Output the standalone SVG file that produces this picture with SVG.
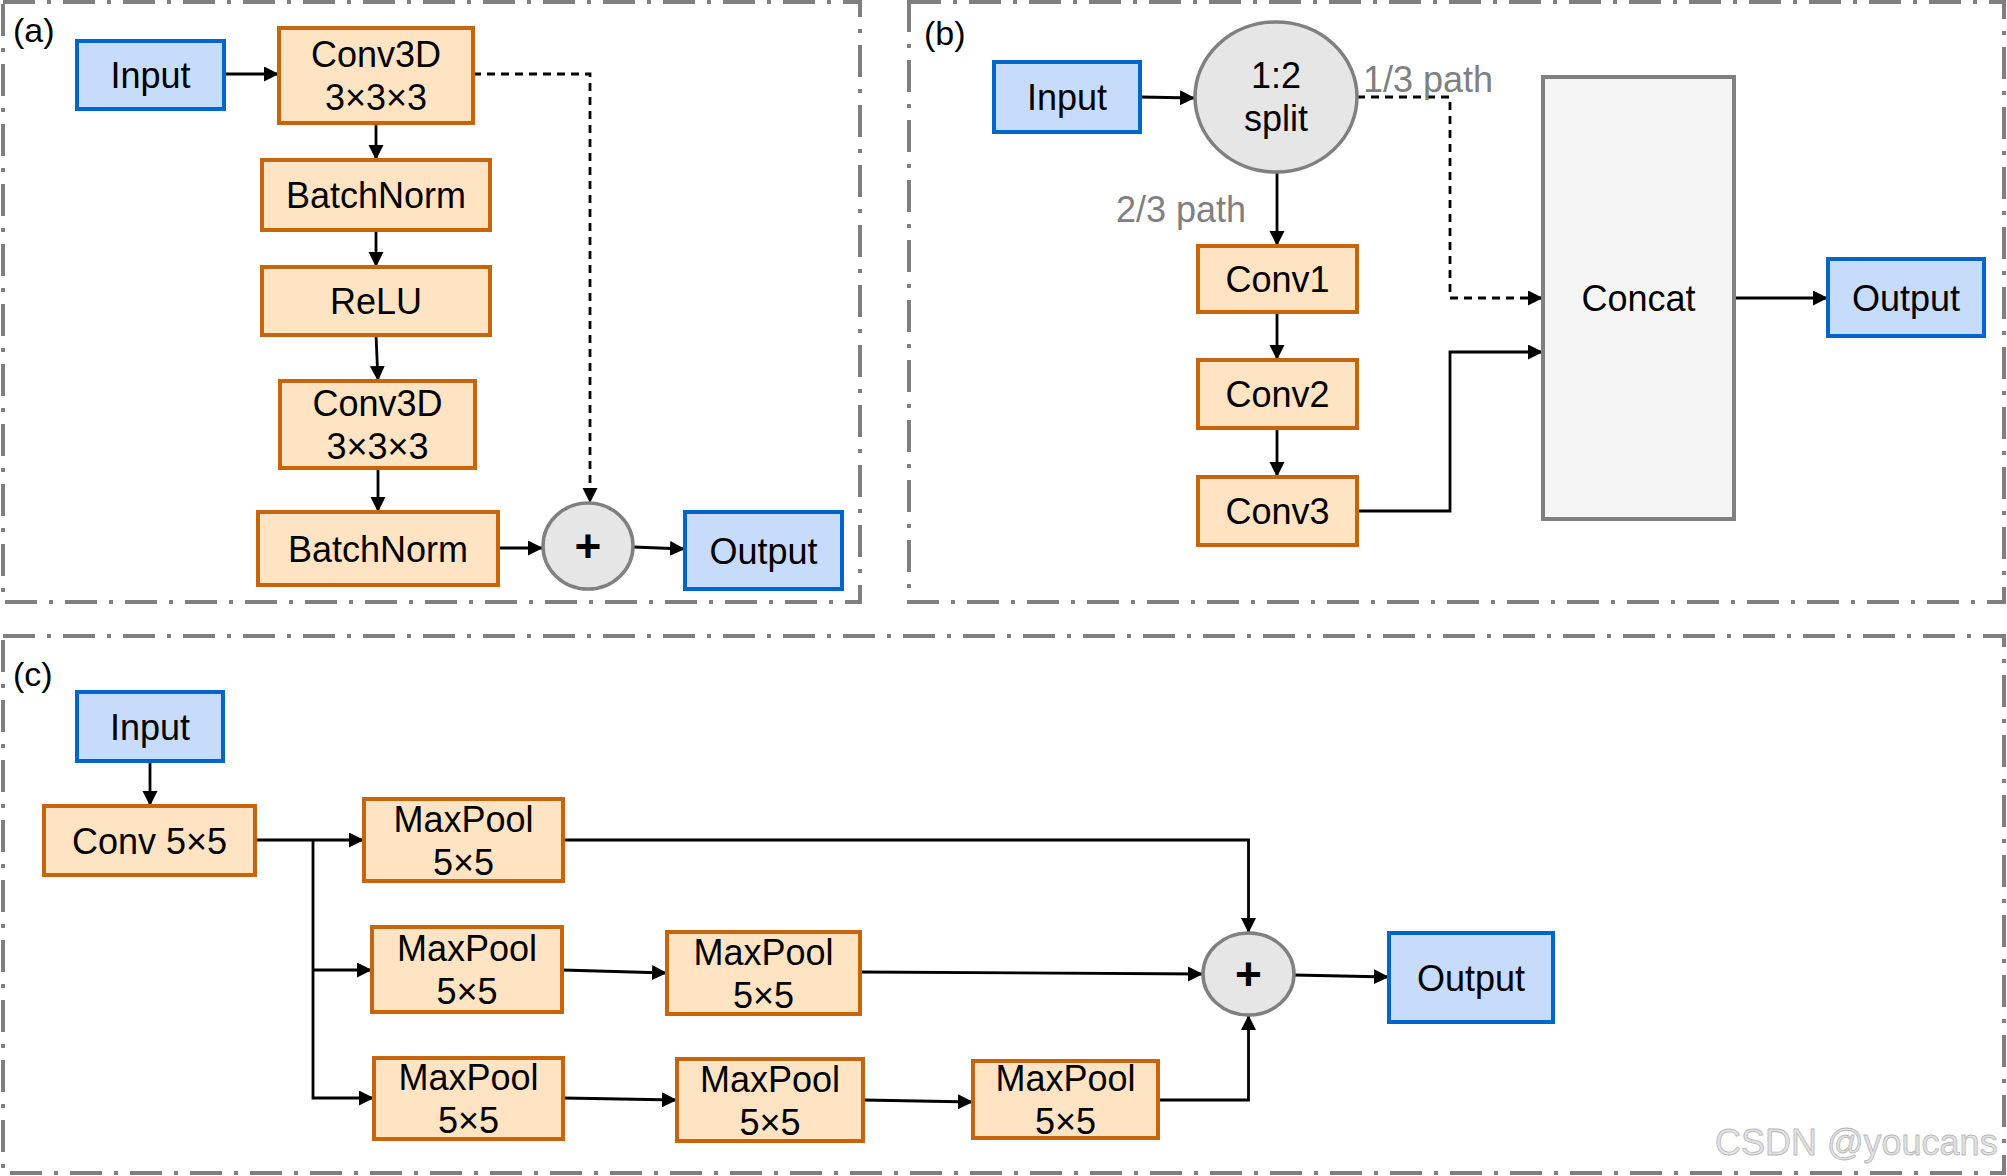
<svg xmlns="http://www.w3.org/2000/svg" width="2007" height="1176" viewBox="0 0 2007 1176">
<style>
.t{font-family:"Liberation Sans",Arial,sans-serif;font-size:36px;text-anchor:middle;fill:#000}
.lab{font-family:"Liberation Sans",Arial,sans-serif;font-size:34px;fill:#000}
.gl{font-family:"Liberation Sans",Arial,sans-serif;font-size:36px;fill:#808080}
.or{fill:#ffe4c4;stroke:#c8640c;stroke-width:4}
.bl{fill:#c6dcfa;stroke:#0066cc;stroke-width:4}
.ci{fill:#e6e6e6;stroke:#808080;stroke-width:3.5}
.cc{fill:#f5f5f5;stroke:#808080;stroke-width:4}
.pn{fill:none;stroke:#7f7f7f;stroke-width:4;stroke-dasharray:32 12 4 12}
.e{fill:none;stroke:#000;stroke-width:2.8;marker-end:url(#ah)}
.d{fill:none;stroke:#000;stroke-width:2.8;stroke-dasharray:8 6;marker-end:url(#ah)}
.pl{font-family:"Liberation Sans",Arial,sans-serif;font-size:46px;font-weight:bold;text-anchor:middle;fill:#000}
.wm{font-family:"Liberation Sans",Arial,sans-serif;font-size:36px;fill:#e2e2e2;stroke:#b8b8b8;stroke-width:0.8}
</style>
<defs>
<marker id="ah" markerUnits="userSpaceOnUse" markerWidth="16" markerHeight="16" refX="15" refY="7.5" orient="auto">
<path d="M0,0 L15,7.5 L0,15 z" fill="#000"/>
</marker>
</defs>
<rect width="2007" height="1176" fill="#fff"/>
<g id="panels">
<rect class="pn" x="3" y="2" width="857" height="600"/>
<rect class="pn" x="909" y="2" width="1095" height="600"/>
<rect class="pn" x="3" y="636" width="2001" height="537"/>
<text class="lab" x="13" y="42">(a)</text>
<text class="lab" x="924" y="45">(b)</text>
<text class="lab" x="13" y="686">(c)</text>
</g>
<g id="connectors">
<path class="e" d="M224,74 H279"/>
<path class="e" d="M376,123 V160"/>
<path class="e" d="M376,230 V267"/>
<path class="e" d="M376,335 L378,381"/>
<path class="e" d="M378,468 V512"/>
<path class="e" d="M498,548 H543"/>
<path class="e" d="M633,547 L685,549"/>
<path class="d" d="M473,74 H590 V503"/>
<path class="e" d="M1140,97 L1195,98"/>
<path class="e" d="M1277,172 V246"/>
<path class="e" d="M1277,312 V360"/>
<path class="e" d="M1277,428 V477"/>
<path class="d" d="M1357,97 H1450 V298 H1543"/>
<path class="e" d="M1357,511 H1450 V352 H1543"/>
<path class="e" d="M1734,298 H1828"/>
<path class="e" d="M150,761 V806"/>
<path class="e" d="M255,840 H364"/>
<path class="e" d="M313,840 V1098 H374"/>
<path class="e" d="M313,970 H372"/>
<path class="e" d="M562,970 L667,973"/>
<path class="e" d="M563,1098 L677,1100"/>
<path class="e" d="M863,1100 L973,1102"/>
<path class="e" d="M563,840 H1248.5 V933"/>
<path class="e" d="M860,972 L1203,974"/>
<path class="e" d="M1158,1100 H1248.5 V1015"/>
<path class="e" d="M1294,975 L1389,977"/>
</g>
<g id="a_input"><rect class="bl" x="77" y="41" width="147" height="68"/><text class="t" x="150.5" y="88">Input</text></g>
<g id="a_conv1"><rect class="or" x="279" y="28" width="194" height="95"/><text class="t" x="376" y="67">Conv3D</text><text class="t" x="376" y="110">3×3×3</text></g>
<g id="a_bn1"><rect class="or" x="262" y="160" width="228" height="70"/><text class="t" x="376" y="208">BatchNorm</text></g>
<g id="a_relu"><rect class="or" x="262" y="267" width="228" height="68"/><text class="t" x="376" y="314">ReLU</text></g>
<g id="a_conv2"><rect class="or" x="280" y="381" width="195" height="87"/><text class="t" x="377.5" y="416">Conv3D</text><text class="t" x="377.5" y="459">3×3×3</text></g>
<g id="a_bn2"><rect class="or" x="258" y="512" width="240" height="73"/><text class="t" x="378" y="561.5">BatchNorm</text></g>
<g id="a_plus"><ellipse class="ci" cx="588" cy="546" rx="45" ry="43"/><text class="pl" x="588" y="562">+</text></g>
<g id="a_output"><rect class="bl" x="685" y="512" width="157" height="77"/><text class="t" x="763.5" y="563.5">Output</text></g>
<g id="b_input"><rect class="bl" x="994" y="62" width="146" height="70"/><text class="t" x="1067" y="110">Input</text></g>
<g id="b_split"><ellipse class="ci" cx="1276" cy="97" rx="81" ry="75"/><text class="t" x="1276" y="88">1:2</text><text class="t" x="1276" y="131">split</text></g>
<g id="b_conv1"><rect class="or" x="1198" y="246" width="159" height="66"/><text class="t" x="1277.5" y="292">Conv1</text></g>
<g id="b_conv2"><rect class="or" x="1198" y="360" width="159" height="68"/><text class="t" x="1277.5" y="407">Conv2</text></g>
<g id="b_conv3"><rect class="or" x="1198" y="477" width="159" height="68"/><text class="t" x="1277.5" y="524">Conv3</text></g>
<g id="b_concat"><rect class="cc" x="1543" y="77" width="191" height="442"/><text class="t" x="1638.5" y="311">Concat</text></g>
<g id="b_output"><rect class="bl" x="1828" y="259" width="156" height="77"/><text class="t" x="1906" y="310.5">Output</text></g>
<g id="b_labels"><text class="gl" x="1363" y="92">1/3 path</text><text class="gl" x="1246" y="222" text-anchor="end">2/3 path</text></g>
<g id="c_input"><rect class="bl" x="77" y="692" width="146" height="69"/><text class="t" x="150" y="739.5">Input</text></g>
<g id="c_conv"><rect class="or" x="44" y="806" width="211" height="69"/><text class="t" x="149.5" y="853.5">Conv 5×5</text></g>
<g id="c_mp11"><rect class="or" x="364" y="799" width="199" height="82"/><text class="t" x="463.5" y="831.5">MaxPool</text><text class="t" x="463.5" y="874.5">5×5</text></g>
<g id="c_mp21"><rect class="or" x="372" y="927" width="190" height="85"/><text class="t" x="467" y="961">MaxPool</text><text class="t" x="467" y="1004">5×5</text></g>
<g id="c_mp22"><rect class="or" x="667" y="932" width="193" height="82"/><text class="t" x="763.5" y="964.5">MaxPool</text><text class="t" x="763.5" y="1007.5">5×5</text></g>
<g id="c_mp31"><rect class="or" x="374" y="1058" width="189" height="81"/><text class="t" x="468.5" y="1090">MaxPool</text><text class="t" x="468.5" y="1133">5×5</text></g>
<g id="c_mp32"><rect class="or" x="677" y="1059" width="186" height="82"/><text class="t" x="770" y="1091.5">MaxPool</text><text class="t" x="770" y="1134.5">5×5</text></g>
<g id="c_mp33"><rect class="or" x="973" y="1061" width="185" height="77"/><text class="t" x="1065.5" y="1091">MaxPool</text><text class="t" x="1065.5" y="1134">5×5</text></g>
<g id="c_plus"><ellipse class="ci" cx="1248.5" cy="974" rx="45.5" ry="41"/><text class="pl" x="1248.5" y="990">+</text></g>
<g id="c_output"><rect class="bl" x="1389" y="933" width="164" height="89"/><text class="t" x="1471" y="990.5">Output</text></g>
<text class="wm" x="1715" y="1155">CSDN @youcans</text>
</svg>
